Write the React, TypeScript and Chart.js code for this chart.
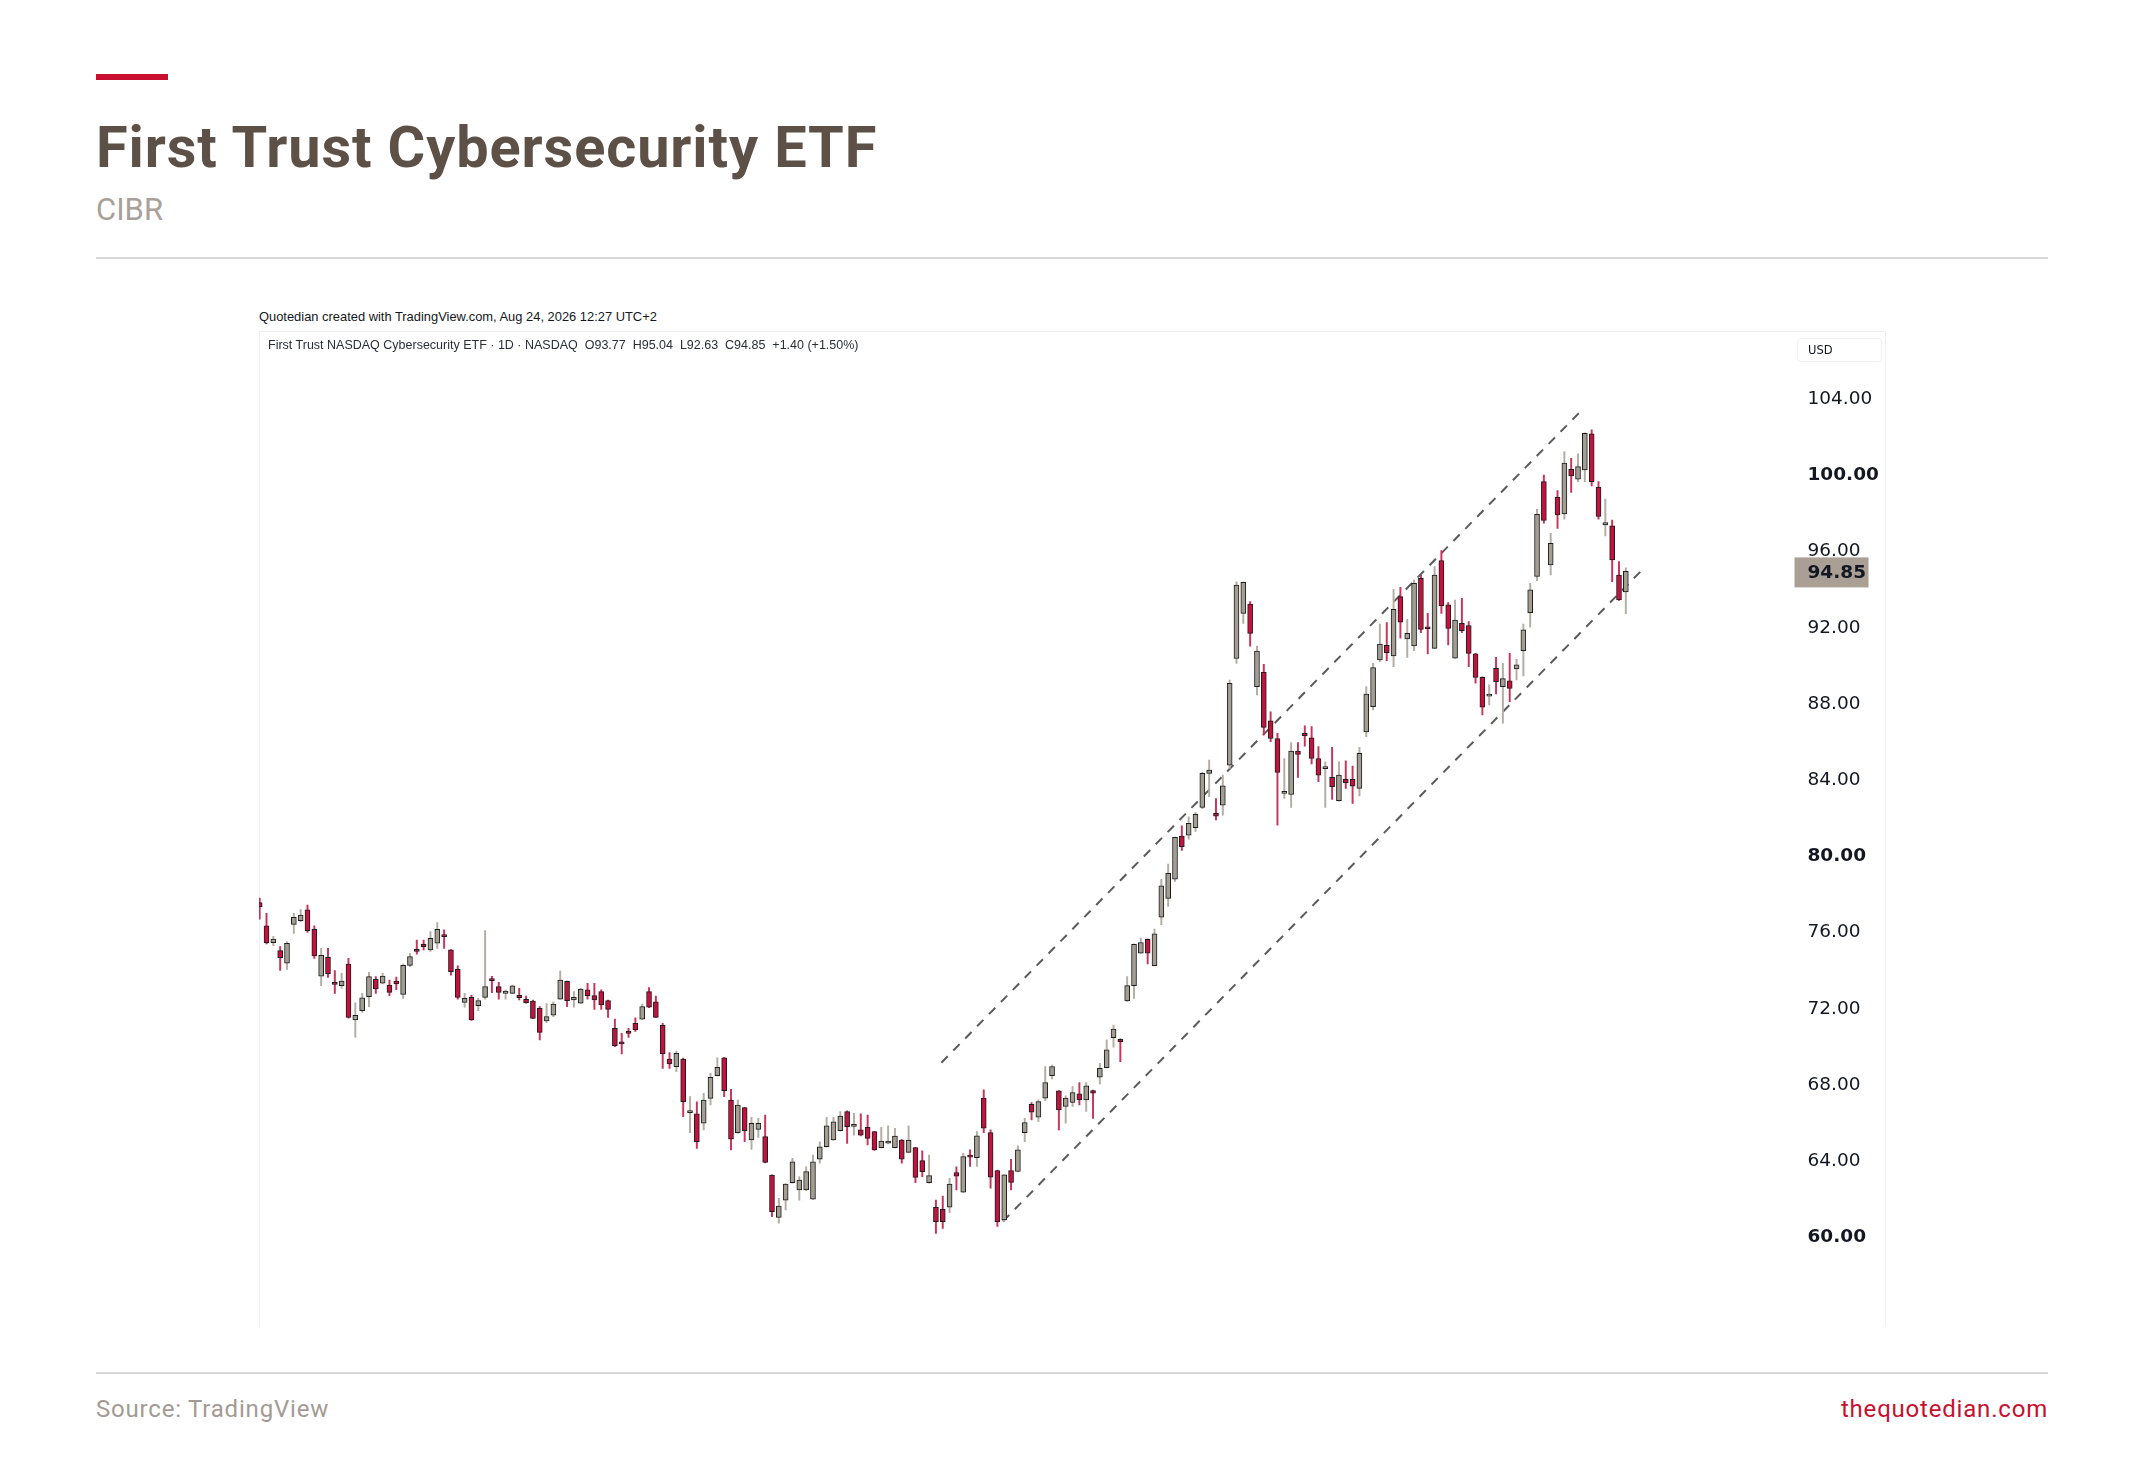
import React, { useEffect, useRef } from 'react';
import { Chart, registerables } from 'chart.js';

Chart.register(...registerables);

// ---- Daily OHLC data (CIBR), oldest first ----
const OPEN = [
  77.46, 76.24, 75.36, 74.94, 74.29, 76.32, 76.51, 77.08, 76.06, 73.6,
  74.59, 73.28, 73.1, 74.24, 71.3, 71.79, 72.53, 73.44, 73.23, 73.14,
  73.35, 72.65, 74.17, 75.01, 75.27, 74.98, 75.33, 75.76, 74.98, 73.96,
  72.23, 72.49, 72.05, 72.49, 73.45, 73.05, 72.7, 72.7, 72.6, 72.39,
  72.3, 71.91, 71.25, 71.56, 72.4, 73.33, 72.35, 72.18, 72.88, 72.58,
  72.79, 72.32, 70.86, 70.15, 70.72, 71.13, 71.34, 72.79, 72.26, 71.02,
  69.25, 68.85, 69.25, 66.44, 66.37, 65.88, 67.19, 68.38, 69.32, 67.1,
  65.39, 66.7, 65.0, 65.56, 65.18, 63.16, 60.94, 61.85, 62.76, 62.38,
  62.38, 61.9, 63.99, 64.65, 65.0, 65.49, 66.49, 65.72, 65.53, 65.67,
  65.44, 64.6, 64.83, 64.6, 65.0, 64.35, 64.6, 63.92, 62.76, 61.47,
  61.36, 61.47, 63.29, 62.26, 64.17, 64.08, 67.2, 65.39, 63.4, 60.81,
  63.4, 63.35, 65.39, 66.88, 66.2, 67.2, 68.38, 67.58, 66.76, 66.98,
  67.42, 67.11, 67.6, 68.3, 68.8, 70.38, 70.29, 72.3, 73.11, 74.81,
  75.54, 74.16, 76.7, 77.69, 78.69, 80.95, 81.0, 81.4, 82.46, 84.25,
  82.15, 82.58, 84.68, 90.28, 92.65, 93.14, 88.8, 89.55, 87.01, 86.08,
  83.2, 83.14, 85.42, 86.35, 86.12, 85.03, 84.5, 84.04, 82.81, 83.93,
  83.93, 83.46, 86.43, 87.75, 90.2, 90.97, 90.41, 93.53, 91.3, 90.94,
  94.49, 91.86, 90.81, 95.42, 93.09, 90.3, 92.13, 92.0, 90.52, 89.29,
  88.3, 89.76, 88.8, 89.1, 89.73, 90.69, 92.69, 94.58, 99.56, 95.19,
  98.74, 97.87, 100.21, 99.69, 100.18, 102.07, 99.27, 97.29, 97.24, 94.66,
  93.77,
];
const HIGH = [
  77.7, 76.9, 75.7, 75.15, 75.4, 76.9, 77.1, 77.34, 76.24, 75.06,
  75.06, 73.89, 73.75, 74.54, 72.2, 72.7, 73.8, 73.58, 73.75, 73.4,
  73.55, 74.24, 74.8, 75.5, 75.5, 75.94, 76.41, 76.03, 75.0, 74.14,
  72.7, 72.6, 72.44, 76.0, 73.6, 73.28, 72.88, 73.14, 72.96, 72.56,
  72.35, 72.0, 72.17, 72.26, 73.87, 73.35, 72.79, 72.96, 73.22, 73.22,
  72.88, 72.35, 71.35, 70.6, 70.86, 71.42, 72.14, 73.0, 72.56, 71.13,
  69.59, 69.67, 69.3, 67.28, 67.01, 67.45, 68.5, 69.32, 69.34, 67.66,
  67.1, 66.72, 66.19, 66.14, 66.31, 63.18, 61.94, 62.71, 64.04, 63.08,
  63.6, 64.21, 64.91, 66.19, 66.19, 66.49, 66.54, 66.4, 66.37, 66.31,
  65.46, 65.67, 65.74, 65.61, 65.02, 65.74, 64.62, 64.44, 64.21, 61.85,
  62.06, 62.99, 63.6, 64.3, 64.48, 65.45, 67.63, 65.53, 63.42, 63.19,
  63.99, 64.69, 66.14, 66.97, 67.11, 68.86, 68.94, 67.6, 67.32, 67.81,
  68.02, 68.02, 67.62, 69.03, 70.26, 71.04, 70.31, 73.58, 75.3, 75.6,
  75.56, 76.07, 78.69, 79.48, 80.91, 81.5, 81.97, 82.2, 84.3, 84.95,
  82.93, 84.16, 89.15, 94.3, 94.29, 93.26, 90.93, 89.97, 87.48, 86.35,
  85.03, 85.86, 85.86, 86.75, 86.7, 85.65, 84.86, 85.61, 84.86, 84.91,
  84.63, 85.61, 88.8, 90.03, 92.09, 92.16, 93.91, 94.02, 92.34, 94.4,
  94.66, 92.65, 95.1, 95.94, 93.21, 93.35, 93.44, 92.21, 90.55, 89.31,
  88.89, 90.34, 90.03, 90.55, 90.24, 92.09, 94.23, 98.11, 99.91, 96.85,
  99.09, 101.14, 100.79, 101.02, 102.12, 102.28, 99.56, 98.64, 97.55, 95.36,
  95.04,
];
const LOW = [
  76.6, 75.3, 75.2, 73.9, 73.96, 75.85, 76.46, 75.9, 74.54, 73.1,
  73.54, 72.7, 72.96, 71.4, 70.4, 71.7, 72.0, 72.7, 73.2, 72.58,
  72.9, 72.44, 74.1, 74.76, 74.98, 74.9, 75.06, 75.06, 73.66, 72.4,
  71.97, 71.28, 71.79, 72.4, 72.73, 72.4, 72.4, 72.68, 72.35, 72.18,
  71.37, 70.25, 71.16, 71.48, 72.38, 72.0, 71.97, 72.16, 72.4, 71.86,
  71.86, 71.44, 69.9, 69.52, 70.39, 70.7, 71.32, 71.95, 71.42, 68.76,
  68.76, 68.59, 66.23, 65.39, 64.56, 65.53, 66.84, 68.36, 67.28, 64.48,
  65.35, 64.91, 64.51, 65.14, 63.8, 60.98, 60.63, 61.33, 62.74, 61.85,
  62.34, 61.88, 63.78, 64.63, 64.98, 65.47, 64.82, 65.26, 65.21, 64.74,
  64.46, 64.58, 64.8, 64.58, 63.78, 64.33, 62.76, 63.08, 62.74, 60.1,
  60.36, 61.19, 62.38, 62.24, 63.61, 63.61, 65.39, 62.47, 60.46, 60.72,
  62.38, 63.33, 64.92, 66.06, 65.97, 67.07, 68.21, 65.53, 65.88, 66.76,
  66.84, 66.5, 66.14, 67.95, 68.78, 69.87, 69.12, 72.28, 72.44, 74.79,
  74.25, 74.14, 76.3, 77.26, 78.57, 80.2, 80.8, 81.2, 82.4, 83.02,
  81.8, 82.06, 84.51, 90.02, 92.12, 90.93, 88.36, 86.26, 85.91, 81.53,
  82.93, 82.46, 84.04, 85.68, 84.74, 83.81, 82.46, 82.88, 82.79, 83.46,
  82.67, 83.06, 86.17, 87.58, 90.11, 90.17, 89.85, 91.34, 90.34, 90.69,
  91.64, 90.52, 90.79, 92.65, 90.99, 90.28, 91.64, 89.85, 88.98, 87.31,
  87.84, 88.42, 86.88, 88.01, 89.15, 89.36, 91.92, 94.37, 97.38, 94.66,
  97.11, 97.59, 98.99, 99.56, 99.56, 99.34, 97.59, 96.71, 94.31, 93.33,
  92.63,
];
const CLOSE = [
  77.25, 75.36, 75.55, 74.57, 75.33, 76.69, 76.81, 75.99, 74.66, 74.7,
  73.72, 73.17, 73.35, 71.44, 71.55, 72.46, 73.58, 72.93, 73.61, 72.75,
  73.19, 74.17, 74.63, 74.9, 75.15, 75.59, 76.06, 75.68, 73.84, 72.49,
  72.44, 71.3, 72.32, 73.05, 73.37, 72.75, 72.82, 73.1, 72.47, 72.21,
  71.39, 70.65, 71.48, 72.14, 73.4, 72.32, 72.49, 72.93, 72.58, 72.35,
  72.09, 71.86, 69.94, 70.04, 70.6, 70.78, 72.0, 71.97, 71.44, 69.52,
  68.99, 69.55, 67.01, 66.47, 64.91, 67.1, 68.29, 68.82, 67.59, 65.04,
  66.84, 65.49, 65.88, 65.88, 63.83, 61.24, 61.54, 62.69, 63.86, 62.9,
  63.34, 63.86, 64.65, 65.74, 65.96, 66.26, 65.7, 65.74, 65.26, 65.09,
  64.48, 64.95, 64.95, 65.21, 63.99, 65.0, 63.04, 63.34, 63.13, 60.71,
  60.71, 62.69, 63.11, 64.13, 64.1, 65.22, 65.62, 63.05, 60.72, 63.17,
  62.78, 64.48, 65.92, 66.46, 67.02, 68.02, 68.86, 66.58, 67.2, 67.49,
  67.11, 67.84, 67.46, 68.77, 69.73, 70.83, 70.17, 73.11, 75.28, 75.37,
  74.81, 75.82, 78.34, 79.0, 80.89, 80.4, 81.62, 82.1, 84.25, 84.42,
  82.0, 83.6, 88.97, 94.13, 94.27, 91.6, 90.67, 86.66, 86.08, 84.3,
  83.23, 85.42, 85.24, 86.21, 85.03, 84.16, 84.52, 83.55, 84.16, 83.76,
  83.58, 85.3, 88.41, 89.8, 91.04, 90.59, 92.86, 92.18, 91.6, 94.23,
  91.81, 91.84, 94.66, 93.04, 91.86, 92.3, 91.74, 90.55, 89.29, 87.72,
  88.32, 89.06, 89.22, 88.71, 89.94, 91.78, 93.88, 97.85, 97.52, 96.33,
  97.81, 100.53, 99.86, 100.35, 102.1, 99.56, 97.73, 97.41, 95.45, 93.35,
  94.85,
];

const PRICE_TICKS = [60, 64, 68, 72, 76, 80, 84, 88, 92, 96, 100, 104];
const UPPER_CHANNEL = [
  { x: 99.8, y: 69.06 },
  { x: 193.7, y: 103.37 },
];
const LOWER_CHANNEL = [
  { x: 108.8, y: 60.73 },
  { x: 202.3, y: 94.9 },
];
const LAST_PRICE = 94.85;

const UP_FILL = '#a39d92';
const DOWN_FILL = '#c2123e';
const UP_WICK = '#b3ada3';
const DOWN_WICK = '#c9345a';
const CANDLE_BORDER = '#1d1d1d';

const lastPricePlugin = {
  id: 'lastPrice',
  afterDraw(chart: any) {
    const { ctx, chartArea, scales } = chart;
    const y = scales.y.getPixelForValue(LAST_PRICE);
    ctx.save();
    ctx.fillStyle = '#a99f94';
    ctx.fillRect(chartArea.right + 2, y - 14, 74, 30);
    ctx.fillStyle = '#131722';
    ctx.font = 'bold 18.5px "DejaVu Sans"';
    ctx.textBaseline = 'middle';
    ctx.textAlign = 'left';
    ctx.fillText(LAST_PRICE.toFixed(2), chartArea.right + 15, y + 2);
    ctx.restore();
  },
};

function CandleChart() {
  const ref = useRef<HTMLCanvasElement | null>(null);
  useEffect(() => {
    if (!ref.current) return;
    const idx = OPEN.map((_, i) => i);
    const up = OPEN.map((o, i) => CLOSE[i] >= o);
    const chart = new Chart(ref.current, {
      type: 'bar',
      data: {
        datasets: [
          {
            type: 'bar',
            label: 'body',
            data: idx.map((i) => ({ x: i, y: [OPEN[i], CLOSE[i]] })) as any,
            backgroundColor: up.map((u) => (u ? UP_FILL : DOWN_FILL)),
            borderColor: CANDLE_BORDER,
            borderWidth: 1,
            borderSkipped: false,
            barThickness: 5,
            grouped: false,
            minBarLength: 2,
            order: 0,
          } as any,
          {
            type: 'bar',
            label: 'wick',
            data: idx.map((i) => ({ x: i, y: [LOW[i], HIGH[i]] })) as any,
            backgroundColor: up.map((u) => (u ? UP_WICK : DOWN_WICK)),
            borderWidth: 0,
            barThickness: 1.3,
            grouped: false,
            order: 1,
          } as any,
          {
            type: 'line',
            label: 'upper',
            data: UPPER_CHANNEL as any,
            borderColor: '#5b5b5b',
            borderWidth: 2,
            borderDash: [9, 8],
            pointRadius: 0,
            order: 2,
          } as any,
          {
            type: 'line',
            label: 'lower',
            data: LOWER_CHANNEL as any,
            borderColor: '#5b5b5b',
            borderWidth: 2,
            borderDash: [9, 8],
            pointRadius: 0,
            order: 2,
          } as any,
        ],
      },
      options: {
        animation: false,
        responsive: false,
        maintainAspectRatio: false,
        events: [],
        layout: { padding: 0 },
        plugins: { legend: { display: false }, tooltip: { enabled: false } },
        scales: {
          x: { type: 'linear', min: -0.1, max: 224.4, display: false, offset: false },
          y: {
            position: 'right',
            min: 55.186,
            max: 107.417,
            afterBuildTicks: (axis: any) => {
              axis.ticks = PRICE_TICKS.map((v) => ({ value: v }));
            },
            afterFit: (scale: any) => {
              scale.width = 93.5;
              scale.paddingTop = 0;
              scale.paddingBottom = 0;
            },
            grid: { display: false, drawTicks: false },
            border: { display: false },
            ticks: {
              padding: 15,
              labelOffset: 2,
              color: '#131722',
              font: (ctx: any) => ({
                family: 'DejaVu Sans',
                size: 18.5,
                weight: ctx.tick && ctx.tick.value % 20 === 0 ? 'bold' : 'normal',
              }),
              callback: (v: any) => Number(v).toFixed(2),
            },
          },
        },
      } as any,
      plugins: [lastPricePlugin],
    });
    return () => chart.destroy();
  }, []);
  return <canvas ref={ref} width={1627} height={995} style={{ position: 'absolute', left: 259, top: 332, width: 1627, height: 995 }} />;
}

export default function App() {
  const abs = (s: React.CSSProperties): React.CSSProperties => ({ position: 'absolute', margin: 0, ...s });
  return (
    <div style={{ position: 'absolute', left: 0, top: 0, width: 2145, height: 1458, background: '#ffffff', overflow: 'hidden', fontFamily: 'Roboto, sans-serif' }}>
      <div style={abs({ left: 96, top: 74, width: 72, height: 6, background: '#c8102e' })} />
      <div style={abs({ left: 96, top: 119.4, fontSize: 57.7, lineHeight: 1, fontWeight: 700, color: '#5d5147', whiteSpace: 'nowrap', letterSpacing: 0.9 })}>
        First Trust Cybersecurity ETF
      </div>
      <div style={abs({ left: 96, top: 193.9, fontSize: 31, lineHeight: 1, fontWeight: 400, color: '#a9a199', whiteSpace: 'nowrap' })}>CIBR</div>
      <div style={abs({ left: 96, top: 257, width: 1952, height: 1.5, background: '#d8d8d8' })} />

      {/* TradingView frame */}
      <div style={abs({ left: 259, top: 331, width: 1627, height: 996, borderTop: '1px solid #efeff2', borderLeft: '1px solid #efeff2', borderRight: '1px solid #efeff2', boxSizing: 'border-box' })} />
      <div style={abs({ left: 259, top: 311, fontFamily: '"Liberation Sans", Arial, sans-serif', fontSize: 12.9, lineHeight: 1, color: '#131722', whiteSpace: 'pre' })}>
        Quotedian created with TradingView.com, Aug 24, 2026 12:27 UTC+2
      </div>
      <CandleChart />
      <div style={abs({ left: 268, top: 339, fontFamily: '"Liberation Sans", Arial, sans-serif', fontSize: 12.5, lineHeight: 1, color: '#2a2e39', whiteSpace: 'pre' })}>
        {'First Trust NASDAQ Cybersecurity ETF · 1D · NASDAQ  O93.77  H95.04  L92.63  C94.85  +1.40 (+1.50%)'}
      </div>
      <div style={abs({ left: 1797, top: 338, width: 85, height: 24, border: '1px solid #f0f0f3', borderRadius: 4, boxSizing: 'border-box', fontFamily: '"DejaVu Sans", sans-serif', fontSize: 11.5, lineHeight: '22px', paddingLeft: 10, color: '#131722' })}>
        USD
      </div>

      {/* footer */}
      <div style={abs({ left: 96, top: 1372, width: 1952, height: 1.5, background: '#d8d8d8' })} />
      <div style={abs({ left: 96, top: 1397, fontSize: 24, lineHeight: 1, color: '#a39b93', letterSpacing: 0.8, whiteSpace: 'nowrap' })}>Source: TradingView</div>
      <div style={abs({ right: 2145 - 2048, top: 1397, fontSize: 24, lineHeight: 1, color: '#c8102e', letterSpacing: 0.8, whiteSpace: 'nowrap' })}>thequotedian.com</div>
    </div>
  );
}
